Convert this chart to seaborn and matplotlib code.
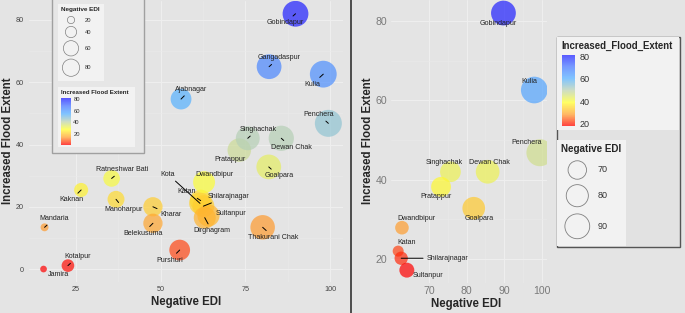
import numpy as np
import pandas as pd
import matplotlib
matplotlib.use("Agg")
import matplotlib.pyplot as plt
import seaborn as sns
from matplotlib.colors import LinearSegmentedColormap, Normalize
from matplotlib.patches import Rectangle
from matplotlib.cm import ScalarMappable
from matplotlib.lines import Line2D

# ---------------- data ----------------
villages = ["Jamira", "Kotalpur", "Mandaria", "Kaknan", "Ratneshwar Bati", "Manoharpur",
            "Kharar", "Belekusuma", "Purshuri", "Kota", "Katan", "Shilarajnagar",
            "Sultanpur", "Dirghagram", "Dwandbipur", "Thakurani Chak", "Goalpara",
            "Pratappur", "Singhachak", "Dewan Chak", "Penchera", "Kulia",
            "Gangadaspur", "Ajabnagar", "Gobindapur"]
negative_edi = [15.4, 22.6, 15.7, 26.5, 35.5, 36.8, 47.7, 47.7, 55.6, 61.6, 61.8, 62.6,
                64.1, 63.0, 62.8, 80.1, 81.9, 73.2, 75.7, 85.6, 99.5, 98.0, 82.0, 56.0, 89.8]
flood_extent = [0.0, 1.1, 13.4, 25.4, 29.1, 22.4, 20.0, 14.7, 6.1, 21.1, 22.0, 20.2,
                17.2, 16.5, 27.9, 13.4, 32.8, 38.2, 42.0, 42.0, 46.8, 62.6, 65.0, 54.6, 82.0]
right_villages = ["Gobindapur", "Kulia", "Penchera", "Singhachak", "Dewan Chak", "Pratappur",
                  "Goalpara", "Dwandbipur", "Katan", "Shilarajnagar", "Sultanpur"]

left_xticks = [25, 50, 75, 100]
left_yticks = [0, 20, 40, 60, 80]
right_xticks = [70, 80, 90, 100]
right_yticks = [20, 40, 60, 80]
left_size_legend = [20, 40, 60, 80]
right_size_legend = [70, 80, 90]
colorbar_ticks = [20, 40, 60, 80]

# ---------------- layout / style ----------------
W, H = 685, 313
BG = "#E4E4E4"
BOX = "#F2F2F2"
PT = 0.72  # points per pixel at dpi 100

# label offsets in pixels (dx right, dy down)
left_offsets = {
    "Jamira": (15, 5), "Kotalpur": (10, -9), "Mandaria": (10, -9), "Kaknan": (-10, 10),
    "Ratneshwar Bati": (11, -9), "Manoharpur": (8, 10), "Kharar": (18, 8),
    "Belekusuma": (-10, 10), "Purshuri": (-10, 10), "Kota": (-32, -29),
    "Katan": (-14, -9), "Shilarajnagar": (25, -10), "Sultanpur": (23, -2),
    "Dirghagram": (7, 13), "Dwandbipur": (10, -8), "Thakurani Chak": (11, 10),
    "Goalpara": (10, 9), "Pratappur": (-9, 9), "Singhachak": (10, -9),
    "Dewan Chak": (10, 9), "Penchera": (-10, -9), "Kulia": (-11, 10),
    "Gangadaspur": (10, -9), "Ajabnagar": (10, -10), "Gobindapur": (-10, 9),
}
left_no_segment = {"Jamira", "Dwandbipur", "Pratappur", "Sultanpur"}
right_offsets = {
    "Gobindapur": (-5, 10), "Kulia": (-5, -9), "Penchera": (-13, -10),
    "Singhachak": (-6, -9), "Dewan Chak": (2, -9), "Pratappur": (-5, 10),
    "Goalpara": (5, 10), "Dwandbipur": (14, -9), "Katan": (8, -9),
    "Shilarajnagar": (46, 0), "Sultanpur": (21, 5),
}
right_segment = {"Shilarajnagar"}

cmap = LinearSegmentedColormap.from_list(
    "flood", ["#FF0000", "#FFA030", "#FFFF30", "#BED2AF", "#56B1FF", "#4878FF", "#2020FF"])

sns.set_style("white")
plt.rcParams["font.family"] = ["Liberation Sans", "DejaVu Sans"]

df = pd.DataFrame({"village": villages, "edi": negative_edi, "flood": flood_extent})
dfR = df.set_index("village").loc[right_villages].reset_index()


def expand(vals, f=0.05):
    lo, hi = min(vals), max(vals)
    d = (hi - lo) * f
    return lo - d, hi + d


def size_dict(vals, d0, d1):
    lo, hi = min(vals), max(vals)
    return {v: ((d0 + (d1 - d0) * np.sqrt((v - lo) / (hi - lo))) * PT) ** 2 for v in vals}


def diam(v, vals, d0, d1):
    lo, hi = min(vals), max(vals)
    return d0 + (d1 - d0) * np.sqrt((v - lo) / (hi - lo))


fig = plt.figure(figsize=(W / 100, H / 100), dpi=100, facecolor=BG)


def px_axes(x0, y0, x1, y1, **kw):
    return fig.add_axes([x0 / W, 1 - y1 / H, (x1 - x0) / W, (y1 - y0) / H], **kw)


def style_axes(ax, xt, yt, fs, color, xpad, ypad):
    ax.set_facecolor(BG)
    for s in ax.spines.values():
        s.set_visible(False)
    ax.set_xticks(xt)
    ax.set_yticks(yt)
    ax.set_xticks([(a + b) / 2 for a, b in zip(xt[:-1], xt[1:])], minor=True)
    ax.set_yticks([(a + b) / 2 for a, b in zip(yt[:-1], yt[1:])], minor=True)
    ax.grid(True, which="major", color="#EEEEEE", lw=0.8)
    ax.grid(True, which="minor", color="#EAEAEA", lw=0.4)
    ax.set_axisbelow(True)
    ax.tick_params(which="major", length=1.5, color="#9A9A9A", labelsize=fs,
                   labelcolor=color)
    ax.tick_params(axis="x", which="major", pad=xpad)
    ax.tick_params(axis="y", which="major", pad=ypad)
    ax.tick_params(which="minor", length=0)
    ax.set_xlabel("")
    ax.set_ylabel("")


# ---------------- left panel ----------------
xl = expand(negative_edi)
yl = expand(flood_extent)
ax1 = px_axes(29.3, 1.0, 342.6, 281.8)
normL = Normalize(min(flood_extent), max(flood_extent))
sns.scatterplot(data=df, x="edi", y="flood", hue="flood", palette=cmap, hue_norm=normL,
                size="edi", sizes=size_dict(negative_edi, 6.7, 27), alpha=0.7,
                linewidth=0, legend=False, ax=ax1)
ax1.set_xlim(*xl)
ax1.set_ylim(*yl)
style_axes(ax1, left_xticks, left_yticks, 5.2, "#444444", 1.8, 2.2)
for v, x, y in zip(villages, negative_edi, flood_extent):
    dx, dy = left_offsets[v]
    ap = None if v in left_no_segment else dict(arrowstyle="-", color="black", lw=0.7,
                                                 shrinkA=0, shrinkB=0)
    ax1.annotate(v, (x, y), xytext=(dx * PT, -dy * PT), textcoords="offset points",
                 ha="center", va="center", fontsize=5.1, color="#222222",
                 arrowprops=ap, zorder=5)

# ---------------- right panel ----------------
xr = expand(dfR["edi"])
yr = expand(dfR["flood"])
ax2 = px_axes(391.1, 0.2, 547.0, 283.0)
normR = Normalize(dfR["flood"].min(), dfR["flood"].max())
r_edi = list(dfR["edi"])
sns.scatterplot(data=dfR, x="edi", y="flood", hue="flood", palette=cmap, hue_norm=normR,
                size="edi", sizes=size_dict(r_edi, 11, 27), alpha=0.7,
                linewidth=0, legend=False, ax=ax2)
ax2.set_xlim(*xr)
ax2.set_ylim(*yr)
style_axes(ax2, right_xticks, right_yticks, 7.6, "#7A7A7A", 0.6, 1.4)
for v, x, y in zip(dfR["village"], dfR["edi"], dfR["flood"]):
    dx, dy = right_offsets[v]
    ap = dict(arrowstyle="-", color="black", lw=0.7, shrinkA=0, shrinkB=0) \
        if v in right_segment else None
    ax2.annotate(v, (x, y), xytext=(dx * PT, -dy * PT), textcoords="offset points",
                 ha="center", va="center", fontsize=5.1, color="#222222",
                 arrowprops=ap, zorder=5)

# ---------------- axis titles ----------------
def ftext(x, y, s, **kw):
    fig.text(x / W, 1 - y / H, s, **kw)

ftext(186, 302, "Negative EDI", ha="center", va="center", fontsize=8.3, weight="bold")
ftext(8.3, 141, "Increased Flood Extent", ha="center", va="center", rotation=90,
      fontsize=8.3, weight="bold")
ftext(466, 304, "Negative EDI", ha="center", va="center", fontsize=8.3, weight="bold")
ftext(368, 141, "Increased Flood Extent", ha="center", va="center", rotation=90,
      fontsize=8.3, weight="bold")

# ---------------- overlay (legends, separator) ----------------
ov = fig.add_axes([0, 0, 1, 1], zorder=5)
ov.set_xlim(0, W)
ov.set_ylim(H, 0)
ov.axis("off")
ov.patch.set_visible(False)


def rect(x0, y0, x1, y1, fc, ec="none", lw=0):
    ov.add_patch(Rectangle((x0, y0), x1 - x0, y1 - y0, facecolor=fc, edgecolor=ec, lw=lw))


# separator
ov.add_line(Line2D([351, 351], [0, H], color="#333333", lw=1.2))

# left legend
rect(52.3, -2, 144, 153.3, "#E6E6E6", "#A0A0A0", 1.0)
rect(58.3, 4, 104, 80.7, BOX)
rect(58.3, 87.3, 135, 147.3, BOX)
ov.text(61, 10, "Negative EDI", ha="left", va="center", fontsize=4.6, weight="bold")
left_leg_d = [7.3, 11.3, 15.3, 17.3]
for val, yy, d in zip(left_size_legend, [20, 32, 48.3, 67.7], left_leg_d):
    ov.scatter([71], [yy], s=(d * PT) ** 2, facecolor="none", edgecolor="#808080", lw=0.5)
    ov.text(85, yy, str(val), ha="left", va="center", fontsize=4.2, color="#333333")
ov.text(61, 92.3, "Increased Flood Extent", ha="left", va="center", fontsize=4.4,
        weight="bold")

# right legend
rect(556.7, 36.7, 680, 246.7, "#E2E2E2", "#555555", 1.0)
rect(557.2, 37.2, 679.5, 130, BOX)
rect(557.2, 140, 626, 246.2, BOX)
ov.text(561, 46.3, "Increased_Flood_Extent", ha="left", va="center", fontsize=6.9,
        weight="bold")
ov.text(561, 149.3, "Negative EDI", ha="left", va="center", fontsize=7.1, weight="bold")
for val, yy in zip(right_size_legend, [170, 195.7, 226.3]):
    d = diam(val, r_edi, 11, 27)
    ov.scatter([577.3], [yy], s=(d * PT) ** 2, facecolor="none", edgecolor="#808080", lw=0.6)
    ov.text(597.7, yy, str(val), ha="left", va="center", fontsize=6.5, color="#333333")

# colorbars
def colorbar(x0, y0, x1, y1, norm, fs, pad):
    cax = px_axes(x0, y0, x1, y1, zorder=6)
    cb = fig.colorbar(ScalarMappable(norm=norm, cmap=cmap), cax=cax, alpha=0.75)
    cb.outline.set_visible(False)
    cb.set_ticks(colorbar_ticks)
    cax.tick_params(length=2, width=0.5, color="white", direction="in",
                    labelsize=fs, labelcolor="#333333", pad=pad)
    return cb

colorbar(61, 98.3, 70.7, 145, normL, 4.2, 1.9)
colorbar(562, 54.5, 575, 126.4, normR, 6.5, 3.6)

fig.savefig("out.png", dpi=100, facecolor=BG)
